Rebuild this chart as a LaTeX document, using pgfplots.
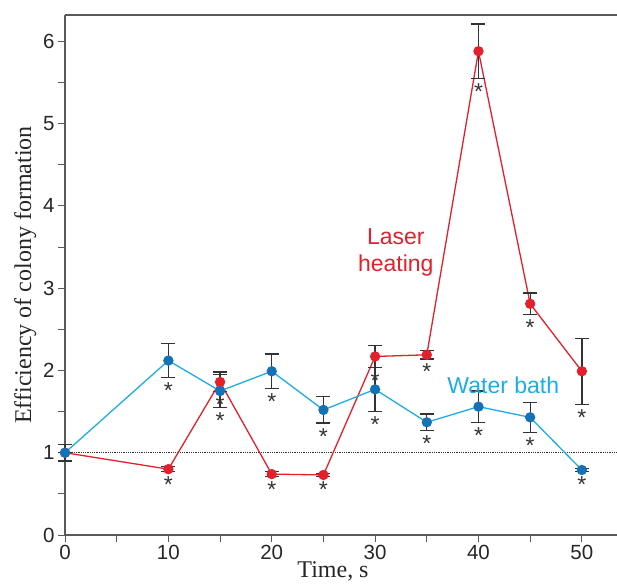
\documentclass[border=0pt]{standalone}
\usepackage{fontspec}
\setmainfont{Liberation Sans}
\newfontfamily\serif{Liberation Serif}
\usepackage{pgfplots}
\pgfplotsset{compat=1.18}
\usetikzlibrary{calc}

\definecolor{lred}{HTML}{E3202B}
\definecolor{wline}{HTML}{1BAEE4}
\definecolor{wmark}{HTML}{1672B6}
\definecolor{axgray}{HTML}{5A5A5A}
\definecolor{errc}{HTML}{333333}

% x, mean, error
\pgfplotstableread{
x   y     e
0   1.00  0.00
10  0.80  0.03
15  1.86  0.12
20  0.74  0.03
25  0.73  0.02
30  2.17  0.13
35  2.19  0.05
40  5.88  0.33
45  2.81  0.13
50  1.99  0.40
}\laser
\pgfplotstableread{
x   y     e
0   1.00  0.10
10  2.12  0.21
15  1.75  0.20
20  1.99  0.21
25  1.52  0.16
30  1.77  0.27
35  1.37  0.10
40  1.56  0.19
45  1.43  0.18
50  0.79  0.02
}\water

\newcommand{\st}[2]{\node[anchor=north, inner sep=0pt, text=errc, font=\fontsize{23}{24}\selectfont] at (axis cs:#1,#2) {*};}

\begin{document}
\begin{tikzpicture}
\begin{axis}[
  name=ax,
  scale only axis,
  width=552pt, height=520pt,
  xmin=0, xmax=53.4,
  ymin=0, ymax=6.32,
  axis x line*=bottom,
  axis y line*=left,
  axis line style={-, axgray, line width=1.3pt},
  xtick={0,10,...,50},
  ytick={0,1,...,6},
  minor xtick={5,15,25,35,45},
  minor ytick={0.5,1.5,2.5,3.5,4.5,5.5},
  tick align=outside,
  major tick length=7pt,
  minor tick length=7pt,
  tick style={axgray, line width=1pt},
  tick label style={font=\fontsize{20.5}{22}\selectfont, text=black!85},
  /pgf/number format/assume math mode=true,
  xlabel={\serif Time, s},
  ylabel={\serif Efficiency of colony formation},
  label style={font=\fontsize{24}{27}\selectfont, text=black!85},
  xlabel style={yshift=5pt, xshift=-8pt},
  clip=false,
]
\draw[axgray, line width=1.3pt] (rel axis cs:0,1) -- (rel axis cs:1,1);
\addplot[black!80, densely dotted, line width=0.8pt] coordinates {(0,1) (53.4,1)};

\addplot[lred, line width=1.3pt, mark=*, mark size=4.5pt,
  mark options={fill=lred, draw=lred},
  error bars/.cd, y dir=both, y explicit,
  error bar style={line width=1.3pt, errc},
  error mark options={rotate=90, mark size=7pt, line width=1.3pt, errc}]
  table[x=x, y=y, y error=e] {\laser};

\addplot[wline, line width=1.3pt, mark=*, mark size=4.5pt,
  mark options={fill=wmark, draw=wmark},
  error bars/.cd, y dir=both, y explicit,
  error bar style={line width=1.3pt, errc},
  error mark options={rotate=90, mark size=7pt, line width=1.3pt, errc}]
  table[x=x, y=y, y error=e] {\water};

% significance marks, laser heating
\st{10}{0.71}\st{15}{1.68}\st{20}{0.65}\st{25}{0.65}\st{30}{1.98}
\st{35}{2.08}\st{40}{5.49}\st{45}{2.62}\st{50}{1.53}
% significance marks, water bath
\st{10}{1.85}\st{15}{1.49}\st{20}{1.72}\st{25}{1.30}\st{30}{1.44}
\st{35}{1.21}\st{40}{1.31}\st{45}{1.19}\st{50}{0.71}

\node[lred, align=center, font=\fontsize{23}{27}\selectfont] at (axis cs:32,3.43) {Laser\\heating};
\node[wline, font=\fontsize{23}{27}\selectfont] at (axis cs:42.4,1.82) {Water bath};
\end{axis}
\pgfresetboundingbox
\path[use as bounding box] ($(ax.south west)+(-65pt,-48pt)$) rectangle ($(ax.north east)+(0pt,15pt)$);
\end{tikzpicture}
\end{document}
